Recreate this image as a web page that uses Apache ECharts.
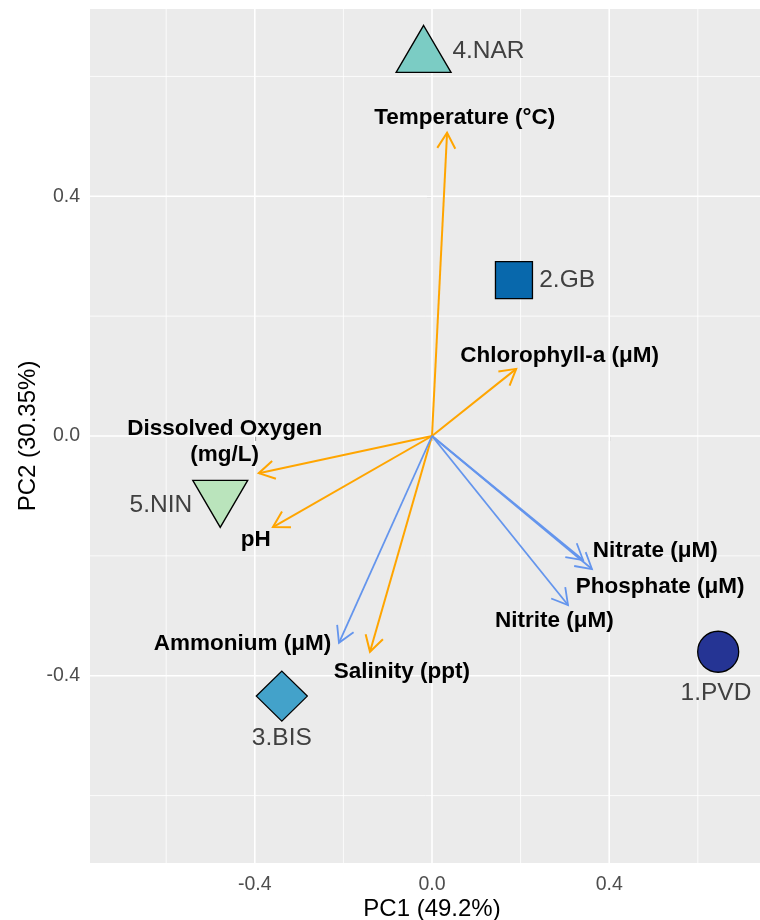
<!DOCTYPE html>
<html>
<head>
<meta charset="utf-8">
<script src="https://cdn.jsdelivr.net/npm/echarts@6/dist/echarts.min.js"></script>
<style>
html,body{margin:0;padding:0;background:#fff;}
#chart{width:760px;height:920px;}
</style>
</head>
<body>
<div id="chart"></div>
<script>
// ---- axis ranges & ticks ----
const xMin = -0.772, xMax = 0.772;
const yMin = -0.7125, yMax = 0.7125;
const majorTicks = [-0.4, 0, 0.4];
const minorTicks = [-0.6, -0.2, 0.2, 0.6];
const xTitle = 'PC1 (49.2%)';
const yTitle = 'PC2 (30.35%)';

// ---- variable loadings (arrows) ----
const varNames   = ['Temperature (°C)', 'Chlorophyll-a (μM)', 'Dissolved Oxygen\n(mg/L)', 'pH', 'Salinity (ppt)', 'Ammonium (μM)', 'Nitrate (μM)', 'Phosphate (μM)', 'Nitrite (μM)'];
const varPC1     = [0.034, 0.190, -0.391, -0.359, -0.140, -0.210, 0.341, 0.361, 0.307];
const varPC2     = [0.506, 0.112, -0.062, -0.152, -0.360, -0.345, -0.207, -0.222, -0.282];
const varGroup   = ['physico', 'physico', 'physico', 'physico', 'physico', 'nutrient', 'nutrient', 'nutrient', 'nutrient'];
const varLabelPC1 = [0.074, 0.288, -0.468, -0.398, -0.068, -0.428, 0.504, 0.515, 0.276];
const varLabelPC2 = [0.531, 0.134, -0.009, -0.174, -0.394, -0.347, -0.192, -0.251, -0.309];

// ---- site scores ----
const siteNames = ['1.PVD', '2.GB', '3.BIS', '4.NAR', '5.NIN'];
const sitePC1   = [0.646, 0.185, -0.339, -0.019, -0.478];
const sitePC2   = [-0.360, 0.260, -0.434, 0.633, -0.100];
const siteLabelPC1 = [0.641, 0.305, -0.339, 0.1275, -0.612];
const siteLabelPC2 = [-0.430, 0.260, -0.505, 0.642, -0.115];

// ---- styles ----
const FONT = '"Liberation Sans", Arial, Helvetica, sans-serif';
const groupColor = { physico: '#FFA500', nutrient: '#6495ED' };
const groupWidth = { physico: 2, nutrient: 1.8 };
const siteStyle = {
  '1.PVD': { symbol: 'circle', size: 41, color: '#253494', offset: [0, 0] },
  '2.GB':  { symbol: 'rect', size: [37, 37], color: '#0868AC', offset: [0, 0] },
  '3.BIS': { symbol: 'diamond', size: [51, 50], color: '#43A2CA', offset: [0, 0] },
  '4.NAR': { symbol: 'triangle', size: [55, 47], color: '#7BCCC4', offset: [0, -7.7] },
  '5.NIN': { symbol: 'path://M0,0 L2,0 L1,2 Z', size: [55, 47], color: '#BAE4BC', offset: [0, 7.9] }
};

const gridLines = [];
majorTicks.forEach(v => { gridLines.push({ dir: 'x', v: v, w: 1.6 }); gridLines.push({ dir: 'y', v: v, w: 1.6 }); });
minorTicks.forEach(v => { gridLines.push({ dir: 'x', v: v, w: 0.8 }); gridLines.push({ dir: 'y', v: v, w: 0.8 }); });

function arrowSeries(group) {
  const idx = varNames.map((n, i) => i).filter(i => varGroup[i] === group);
  return {
    type: 'custom', z: 3, silent: true,
    data: idx.map(i => [varPC1[i], varPC2[i]]),
    renderItem: function (params, api) {
      const p0 = api.coord([0, 0]);
      const p1 = api.coord([api.value(0), api.value(1)]);
      const ang = Math.atan2(p1[1] - p0[1], p1[0] - p0[0]);
      const L = 18, a = Math.PI / 6;
      const h1 = [p1[0] - L * Math.cos(ang - a), p1[1] - L * Math.sin(ang - a)];
      const h2 = [p1[0] - L * Math.cos(ang + a), p1[1] - L * Math.sin(ang + a)];
      const st = { stroke: groupColor[group], lineWidth: groupWidth[group], fill: null, lineCap: 'butt', lineJoin: 'miter' };
      return {
        type: 'group',
        children: [
          { type: 'line', shape: { x1: p0[0], y1: p0[1], x2: p1[0], y2: p1[1] }, style: st },
          { type: 'polyline', shape: { points: [h1, p1, h2] }, style: st }
        ]
      };
    }
  };
}

const option = {
  animation: false,
  backgroundColor: '#ffffff',
  grid: { left: 90, right: -14, top: 9, bottom: 57, show: true, backgroundColor: '#EBEBEB', borderWidth: 0, containLabel: false, outerBoundsMode: 'none' },
  xAxis: {
    type: 'value', min: xMin, max: xMax,
    splitLine: { show: false }, axisLine: { show: false },
    axisTick: { show: true, customValues: majorTicks, length: 5, lineStyle: { color: '#333333', width: 1.1 } },
    axisLabel: { customValues: majorTicks, formatter: v => v.toFixed(1), color: '#4D4D4D', fontSize: 19.5, margin: 12, fontFamily: FONT },
    name: xTitle, nameLocation: 'middle', nameGap: 34, nameMoveOverlap: false,
    nameTextStyle: { color: '#000000', fontSize: 24, fontFamily: FONT }
  },
  yAxis: {
    type: 'value', min: yMin, max: yMax,
    splitLine: { show: false }, axisLine: { show: false },
    axisTick: { show: true, customValues: majorTicks, length: 5, lineStyle: { color: '#333333', width: 1.1 } },
    axisLabel: { customValues: majorTicks, formatter: v => v.toFixed(1), color: '#4D4D4D', fontSize: 19.5, margin: 10, fontFamily: FONT },
    name: yTitle, nameLocation: 'middle', nameGap: 50, nameRotate: 90, nameMoveOverlap: false,
    nameTextStyle: { color: '#000000', fontSize: 24, fontFamily: FONT }
  },
  series: [
    {
      type: 'custom', z: 1, silent: true,
      data: gridLines.map(g => [g.v, g.v]),
      renderItem: function (params, api) {
        const g = gridLines[params.dataIndex];
        let a, b;
        if (g.dir === 'x') { a = api.coord([g.v, yMin]); b = api.coord([g.v, yMax]); }
        else { a = api.coord([xMin, g.v]); b = api.coord([xMax, g.v]); }
        return { type: 'line', shape: { x1: a[0], y1: a[1], x2: b[0], y2: b[1] }, style: { stroke: '#FFFFFF', lineWidth: g.w } };
      }
    },
    arrowSeries('physico'),
    arrowSeries('nutrient'),
    {
      type: 'scatter', z: 4, silent: true,
      data: siteNames.map((n, i) => ({
        value: [sitePC1[i], sitePC2[i]],
        symbol: siteStyle[n].symbol,
        symbolSize: siteStyle[n].size,
        symbolOffset: siteStyle[n].offset,
        itemStyle: { color: siteStyle[n].color, borderColor: '#000000', borderWidth: 1.3, opacity: 1 }
      }))
    },
    {
      type: 'custom', z: 5, silent: true,
      data: varNames.map((n, i) => [varLabelPC1[i], varLabelPC2[i]]),
      renderItem: function (params, api) {
        const p = api.coord([api.value(0), api.value(1)]);
        return {
          type: 'text', x: p[0], y: p[1],
          style: { text: varNames[params.dataIndex], fill: '#000000', fontSize: 22.5, fontWeight: 'bold', fontFamily: FONT, align: 'center', verticalAlign: 'middle', lineHeight: 26 }
        };
      }
    },
    {
      type: 'custom', z: 5, silent: true,
      data: siteNames.map((n, i) => [siteLabelPC1[i], siteLabelPC2[i]]),
      renderItem: function (params, api) {
        const p = api.coord([api.value(0), api.value(1)]);
        return {
          type: 'text', x: p[0], y: p[1],
          style: { text: siteNames[params.dataIndex], fill: '#404040', fontSize: 24.5, fontFamily: FONT, align: 'center', verticalAlign: 'middle' }
        };
      }
    }
  ]
};

const chart = echarts.init(document.getElementById('chart'), null, { renderer: 'canvas' });
chart.setOption(option);
</script>
</body>
</html>
